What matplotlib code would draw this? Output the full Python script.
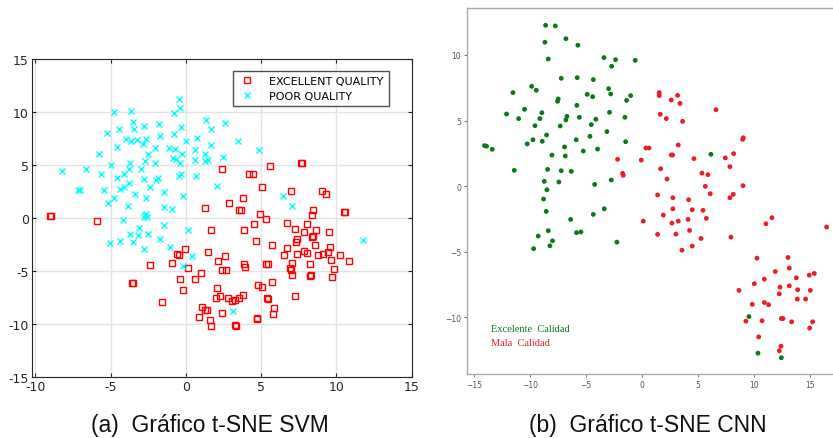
import matplotlib
matplotlib.use("Agg")
import matplotlib.pyplot as plt
import numpy as np

# ---------------- (a) SVM t-SNE data ----------------
svm_exc_x = [-9.05, -8.94, -5.88, 2.39, 4.23, 4.49, 5.62, 7.63, 7.70, 5.07, 6.97, 9.03, 9.29, 3.78, 2.88,
             1.28, 3.52, 3.69, 8.47, 8.41, 4.93, 10.49, 10.58, 5.31, 6.70, 8.08, 4.56, 7.28, 8.65, 7.83,
             1.70, 3.89, 9.49, 8.36, 8.43, 7.42, 7.30, 4.65, 5.73, 8.58, 6.70, 9.58, -0.04, 1.50, 7.88,
             8.08, 7.37, 9.09, 9.42, -0.58, -0.44, 2.59, 6.55, 8.78, 10.22, 2.17, -0.95, 9.62, 10.86, 8.23,
             7.08, 3.89, 3.94, 5.31, 5.44, -2.39, 0.13, 6.95, 6.97, 2.39, 2.70, 9.82, 1.04, 7.04, 8.27,
             8.31, 9.71, 0.58, -0.42, -3.56, -3.50, 5.73, 4.78, 5.04, 2.10, -0.20, 7.24, 3.83, 3.56, 5.38,
             5.49, 2.28, 2.01, 2.79, 3.10, 3.30, -1.57, 5.86, 1.08, 1.26, 1.39, 2.39, 5.82, 0.88, 1.61,
             4.71, 4.76, 1.70, 3.30, 3.36]
svm_exc_y = [0.16, 0.22, -0.28, 4.62, 4.18, 4.18, 4.90, 5.22, 5.22, 2.89, 2.58, 2.55, 2.30, 1.86, 1.45,
             0.97, 0.72, 0.72, 0.75, 0.31, 0.35, 0.60, 0.60, -0.06, -0.47, -0.57, -0.57, -1.04, -1.16, -1.35,
             -1.16, -1.13, -1.35, -1.79, -1.70, -2.01, -2.23, -2.17, -2.55, -2.58, -2.86, -2.74, -2.89, -3.18, -3.11,
             -3.27, -3.40, -3.36, -3.21, -3.40, -3.49, -3.58, -3.52, -3.52, -3.52, -4.03, -4.21, -3.99, -4.09, -4.31,
             -4.28, -4.37, -4.59, -4.31, -4.37, -4.47, -4.75, -4.72, -4.91, -4.94, -4.94, -4.78, -5.19, -5.38, -5.44,
             -5.38, -5.60, -5.79, -5.79, -6.13, -6.10, -6.04, -6.32, -6.48, -6.60, -6.79, -7.33, -7.30, -7.52, -7.55,
             -7.61, -7.33, -7.58, -7.52, -7.83, -7.77, -7.96, -8.46, -8.36, -8.68, -8.65, -8.99, -9.03, -9.34, -9.62,
             -9.40, -9.50, -10.19, -10.13, -10.19]

svm_poor_x = [-0.44, -0.38, -4.80, -3.63, -0.77, 1.33, -3.50, 2.59, -1.79, -2.81, -0.31, -3.43, -4.47, 1.70,
              -5.24, -0.82, -1.70, 0.71, -3.96, -2.63, -3.63, -3.25, 3.45, -0.02, -2.85, 1.66, -4.59, -2.04,
              -1.15, -0.71, 0.62, 4.85, -5.77, 1.24, -0.27, -2.50, -0.86, 2.50, -0.64, 0.62, 1.50, 1.26, -2.74,
              -0.38, -3.74, -2.06, -4.98, -6.66, -3.76, -2.96, -8.21, -5.62, -4.12, -0.29, -0.44, 0.69, -4.58,
              -2.77, -2.01, -1.84, -3.78, -4.14, -4.36, -2.37, 2.10, -7.19, -7.06, -5.46, -3.36, -1.48, -4.80,
              -2.63, -0.20, 6.48, -5.15, -3.84, -1.48, -0.93, 7.04, -2.72, -2.65, -2.75, -2.60, -4.18, -1.48,
              -3.12, 0.13, -3.69, -3.19, -2.50, -1.70, -3.52, -4.40, -5.04, 11.77, -2.77, -1.04, 0.40, -0.22,
              3.16]
svm_poor_y = [11.26, 10.40, 10.03, 10.10, 9.94, 9.30, 9.10, 8.93, 8.87, 8.68, 8.62, 8.43, 8.36, 8.36,
              8.02, 7.92, 7.74, 7.58, 7.48, 7.42, 7.26, 7.33, 7.23, 7.30, 7.01, 6.86, 6.70, 6.60,
              6.57, 6.54, 6.45, 6.42, 6.07, 6.04, 6.00, 6.00, 5.69, 5.79, 5.53, 5.50, 5.44, 5.41, 5.35,
              5.16, 5.22, 5.22, 5.00, 4.65, 4.59, 4.65, 4.40, 4.18, 4.18, 4.15, 3.93, 3.96, 3.77,
              3.65, 3.58, 3.74, 3.27, 2.96, 2.70, 2.89, 3.02, 2.64, 2.64, 2.64, 2.30, 2.45, 1.89,
              1.86, 2.04, 2.08, 1.38, 1.13, 1.04, 0.82, 1.13, 0.30, 0.35, 0.10, 0.12, -0.19, -0.69,
              -0.91, -1.16, -1.54, -1.60, -1.48, -2.01, -2.23, -2.17, -2.33, -2.08, -2.89, -2.74, -3.58, -4.53,
              -8.74]

# ---------------- (b) CNN t-SNE data ----------------
cnn_exc_x = [-8.62, -7.75, -8.68, -6.80, -5.73, -8.38, -3.40, -2.36, -2.71, -0.60, -7.22, -5.79, -4.35,
             -11.54, -9.87, -9.45, -2.98, -2.80, -4.89, -4.41, -1.01, -7.49, -7.55, -5.82, -1.37, -10.50,
             -12.11, -11.03, -8.95, -9.13, -6.71, -6.80, -5.60, -2.90, -4.12, -1.52, -9.57, -7.31, -4.53,
             -3.13, -8.53, -9.75, -8.92, -10.26, -5.88, -4.65, -1.46, -14.08, -13.90, -13.39, -6.92, -5.25,
             -3.97, -8.05, -6.86, 6.17, -11.42, -8.44, -7.22, -6.32, -2.74, -4.23, -7.43, -8.74, -8.50,
             -8.80, -8.56, -3.37, -4.35, -6.38, -5.85, -5.46, -8.38, -9.28, -8.00, -8.23, -9.69, -2.24,
             9.57, 10.38, 12.47]
cnn_exc_y = [12.26, 12.21, 10.97, 11.24, 10.74, 9.69, 9.80, 9.64, 9.14, 9.59, 8.22, 8.27, 8.12,
             7.13, 7.61, 7.31, 7.43, 7.03, 7.00, 6.82, 6.90, 6.65, 6.47, 6.16, 6.54, 5.86,
             5.50, 5.15, 5.60, 5.15, 5.32, 5.05, 5.25, 5.63, 5.10, 5.25, 4.61, 4.59, 4.69,
             4.16, 3.90, 3.54, 3.42, 3.22, 3.54, 3.80, 3.39, 3.09, 3.05, 2.81, 2.99, 2.68,
             2.83, 2.37, 2.30, 2.43, 1.21, 1.28, 1.18, 1.13, 0.47, 0.14, 0.32, 0.37, -0.27,
             -0.98, -1.92, -1.72, -2.15, -2.53, -3.54, -3.49, -3.39, -3.80, -4.16, -4.54, -4.76, -4.26,
             -9.93, -12.72, -13.07]

cnn_bad_x = [1.55, 1.55, 3.19, 2.62, 3.40, 6.62, 1.64, 2.18, 3.64, 9.01, 9.07, 3.25, 0.36, 0.63, 2.62,
             2.74, -2.18, -0.06, 4.65, 7.46, 8.20, 7.87, 1.67, -1.73, -1.67, 5.37, 5.90, 2.24, 5.67, 9.04,
             1.40, 6.11, 8.17, 7.87, 2.77, 4.18, 2.77, 4.50, 5.46, 1.91, 5.76, 4.12, 0.12, 3.25, 2.68,
             11.63, 11.09, 16.52, 4.26, 1.40, 3.04, 7.96, 5.28, 4.50, 3.58, 10.29, 13.06, 13.18, 11.93,
             13.81, 14.97, 15.42, 10.95, 10.05, 12.35, 13.18, 8.68, 13.93, 15.06, 12.29, 13.90, 14.64,
             10.95, 11.33, 9.87, 9.30, 10.74, 12.47, 12.62, 13.39, 15.27, 15.00, 10.44, 12.44, 12.29]
cnn_bad_y = [7.13, 6.90, 6.92, 6.57, 6.31, 5.83, 5.48, 5.15, 4.94, 3.57, 3.69, 3.14, 2.91, 2.91, 2.38,
             2.38, 2.05, 1.99, 2.10, 2.15, 2.48, 1.49, 1.33, 0.98, 0.83, 1.00, 0.88, 0.55, -0.01, 0.04,
             -0.67, -0.57, -0.62, -0.88, -0.88, -1.03, -1.72, -1.79, -1.84, -2.20, -2.45, -2.53, -2.66, -2.66, -2.81,
             -2.40, -2.86, -3.11, -3.37, -3.67, -3.65, -3.88, -3.98, -4.56, -4.87, -5.48, -5.43, -6.24, -6.50,
             -6.98, -6.78, -6.65, -7.08, -7.43, -7.69, -7.59, -7.94, -7.89, -7.94, -8.20, -8.60, -8.60,
             -8.86, -9.03, -9.00, -10.28, -10.25, -10.08, -10.08, -10.33, -10.33, -10.81, -11.48, -12.19, -12.54]

legend_a = ["EXCELLENT QUALITY", "POOR QUALITY"]
xticks_a = [-10, -5, 0, 5, 10, 15]
yticks_a = [-15, -10, -5, 0, 5, 10, 15]
xticks_b = [-15, -10, -5, 0, 5, 10, 15]
yticks_b = [-10, -5, 0, 5, 10]
labels_b = ["Excelente  Calidad", "Mala  Calidad"]
captions = ["(a)  Gráfico t-SNE SVM", "(b)  Gráfico t-SNE CNN"]

fig = plt.figure(figsize=(8.33, 4.39), dpi=100)

# ---------- left panel ----------
ax1 = fig.add_axes([0.038, 0.139, 0.456, 0.724])
ax1.plot(svm_exc_x, svm_exc_y, linestyle='none', marker='s', markersize=4.2,
         markerfacecolor='none', markeredgecolor='#ff0000', markeredgewidth=1.0, label=legend_a[0])
ax1.plot(svm_poor_x, svm_poor_y, linestyle='none', marker='x', markersize=4.0,
         markeredgecolor='#00ffff', markeredgewidth=1.0, label=legend_a[1])
ax1.set_xlim(-10.25, 15)
ax1.set_ylim(-15, 15)
ax1.set_xticks(xticks_a)
ax1.set_xticklabels([str(v) for v in xticks_a])
ax1.set_yticks(yticks_a)
ax1.set_yticklabels([str(v) for v in yticks_a])
ax1.grid(True, color='#e3e3e3', linewidth=1.0)
ax1.set_axisbelow(True)
ax1.tick_params(direction='in', top=True, right=True, length=3, width=0.8,
                labelsize=9, colors='#262626', pad=2)
for s in ax1.spines.values():
    s.set_color('#262626')
    s.set_linewidth(0.8)
leg = ax1.legend(loc='upper right', bbox_to_anchor=(0.955, 0.981), fontsize=8,
                 frameon=True, fancybox=False, edgecolor='#262626', borderpad=0.5,
                 handletextpad=1.2, handlelength=1.5, labelspacing=0.4)
leg.get_frame().set_linewidth(1.0)

# ---------- right panel ----------
ax2 = fig.add_axes([0.561, 0.146, 0.45, 0.833])
ax2.scatter(cnn_exc_x, cnn_exc_y, s=12, color='#0b7a16', edgecolors='none')
ax2.scatter(cnn_bad_x, cnn_bad_y, s=12, color='#ee1c24', edgecolors='none')
ax2.set_xlim(-15.62, 17.91)
ax2.set_ylim(-14.3, 13.56)
ax2.set_xticks(xticks_b)
ax2.set_yticks(yticks_b)
ax2.tick_params(labelsize=5.5, colors='#555555', length=2.5, width=0.6, pad=2)
for s in ax2.spines.values():
    s.set_color('#aaaaaa')
    s.set_linewidth(1.0)
ax2.spines['right'].set_visible(False)
ax2.text(-13.5, -10.85, labels_b[0], color='#0b7a16', fontsize=7.5,
         family='Liberation Serif', va='center', ha='left')
ax2.text(-13.5, -11.9, labels_b[1], color='#ee1c24', fontsize=7.5,
         family='Liberation Serif', va='center', ha='left')

# ---------- captions ----------
fig.text(0.252, 0.031, captions[0], fontsize=16.5, family='Liberation Sans',
         ha='center', va='center', color='#111111')
fig.text(0.778, 0.031, captions[1], fontsize=16.5, family='Liberation Sans',
         ha='center', va='center', color='#111111')

fig.savefig('out.png', dpi=100)
